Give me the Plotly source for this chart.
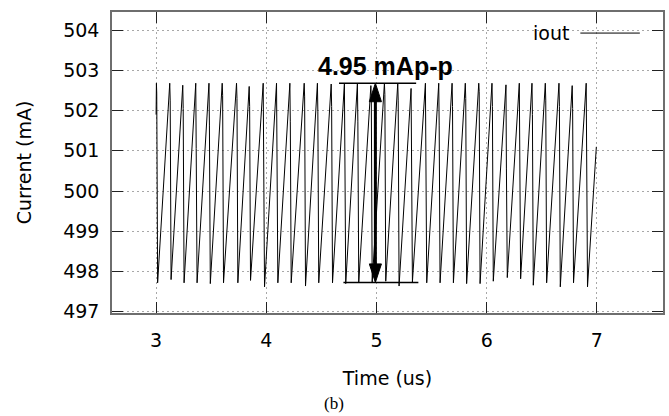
import plotly.graph_objects as go

# first and last samples of the captured window
t_first, i_first = 3.000, 501.90
t_last, i_last = 6.995, 501.10

# one entry per switching cycle: crest, knee on the falling edge, valley
t_peak = [3.003, 3.124, 3.242, 3.360, 3.480, 3.600, 3.730, 3.845, 3.972, 4.093, 4.214,
          4.344, 4.464, 4.589, 4.709, 4.827, 4.949, 5.072, 5.193, 5.314, 5.444, 5.565,
          5.686, 5.806, 5.928, 6.048, 6.175, 6.296, 6.411, 6.532, 6.656, 6.776, 6.903]
i_peak = [502.68, 502.68, 502.63, 502.68, 502.68, 502.68, 502.68, 502.60, 502.68, 502.68, 502.68,
          502.68, 502.68, 502.66, 502.68, 502.68, 502.62, 502.68, 502.68, 502.55, 502.68, 502.68,
          502.68, 502.68, 502.68, 502.68, 502.64, 502.68, 502.68, 502.68, 502.68, 502.62, 502.68]
t_knee = [3.006, 3.128, 3.246, 3.364, 3.484, 3.604, 3.734, 3.849, 3.976, 4.097, 4.218,
          4.348, 4.468, 4.593, 4.713, 4.831, 4.953, 5.076, 5.197, 5.318, 5.448, 5.569,
          5.690, 5.810, 5.932, 6.052, 6.179, 6.300, 6.415, 6.536, 6.660, 6.780, 6.907]
i_knee = [502.43, 502.26, 502.05, 501.06, 501.64, 502.38, 502.30, 502.10, 501.27, 501.43, 501.72,
          502.34, 501.97, 502.10, 501.31, 501.72, 502.30, 502.40, 502.26, 500.80, 501.31, 501.64,
          502.10, 502.30, 502.47, 502.10, 500.55, 501.10, 501.90, 502.26, 502.10, 502.05, 500.98]
t_valley = [3.014, 3.136, 3.254, 3.372, 3.492, 3.612, 3.742, 3.857, 3.984, 4.105, 4.226,
            4.356, 4.476, 4.601, 4.721, 4.839, 4.961, 5.084, 5.205, 5.326, 5.456, 5.577,
            5.698, 5.818, 5.940, 6.060, 6.187, 6.308, 6.423, 6.544, 6.668, 6.788, 6.915]
i_valley = [497.72, 497.80, 497.72, 497.72, 497.70, 497.72, 497.72, 497.78, 497.62, 497.72, 497.72,
            497.64, 497.72, 497.72, 497.70, 497.73, 497.73, 497.76, 497.64, 497.74, 497.72, 497.72,
            497.72, 497.70, 497.70, 497.76, 497.85, 497.82, 497.66, 497.72, 497.62, 497.72, 497.62]

# peak-to-peak marker
pp_top = 502.68
pp_bottom = 497.73
pp_time = 4.99
pp_label = f"{pp_top - pp_bottom:.2f} mAp-p"
pp_label_time = 5.08
bracket_top = (4.66, 5.36)
bracket_bottom = (4.70, 5.38)

x_ticks = [3, 4, 5, 6, 7]
y_ticks = [497, 498, 499, 500, 501, 502, 503, 504]

time_us = [t_first]
current_ma = [i_first]
for k in range(len(t_peak)):
    time_us += [t_peak[k], t_knee[k], t_valley[k]]
    current_ma += [i_peak[k], i_knee[k], i_valley[k]]
time_us.append(t_last)
current_ma.append(i_last)

FONT = "DejaVu Sans"

fig = go.Figure()
fig.add_trace(go.Scatter(
    x=time_us, y=current_ma, mode="lines", name="iout",
    line=dict(color="black", width=1), showlegend=False,
))

# double-headed arrow and the two level brackets
head_len = 0.46   # mA
head_half = 0.055  # us
shapes = [
    dict(type="line", xref="x", yref="y", x0=bracket_top[0], x1=bracket_top[1],
         y0=pp_top, y1=pp_top, line=dict(color="black", width=1.5)),
    dict(type="line", xref="x", yref="y", x0=bracket_bottom[0], x1=bracket_bottom[1],
         y0=pp_bottom, y1=pp_bottom, line=dict(color="black", width=1.5)),
    dict(type="line", xref="x", yref="y", x0=pp_time, x1=pp_time,
         y0=pp_bottom + head_len * 0.8, y1=pp_top - head_len * 0.8,
         line=dict(color="black", width=3)),
    dict(type="path", xref="x", yref="y", fillcolor="black", line=dict(color="black", width=1),
         path=(f"M{pp_time - head_half},{pp_top - head_len} L{pp_time},{pp_top} "
               f"L{pp_time + head_half},{pp_top - head_len} Z")),
    dict(type="path", xref="x", yref="y", fillcolor="black", line=dict(color="black", width=1),
         path=(f"M{pp_time - head_half},{pp_bottom + head_len} L{pp_time},{pp_bottom} "
               f"L{pp_time + head_half},{pp_bottom + head_len} Z")),
    # legend sample line
    dict(type="line", xref="paper", yref="paper", x0=0.850, x1=0.958, y0=0.930, y1=0.930,
         line=dict(color="black", width=1)),
]

annotations = [
    dict(text=f"<b>{pp_label}</b>", x=pp_label_time, y=pp_top,
         xref="x", yref="y", xanchor="center", yanchor="bottom", yshift=1, showarrow=False,
         font=dict(family="Liberation Sans", size=25, color="black")),
    dict(text="iout", x=(573 - 112) / 553, y=0.930, xref="paper", yref="paper",
         xanchor="right", yanchor="middle", showarrow=False,
         font=dict(family=FONT, size=19, color="black")),
    dict(text="(b)", x=(335 - 112) / 553, y=-0.302, xref="paper", yref="paper",
         xanchor="center", yanchor="middle", showarrow=False,
         font=dict(family="Liberation Serif", size=17, color="black")),
]

axis_common = dict(
    showline=True, linecolor="#6e6e6e", linewidth=1.5, mirror="ticks",
    ticks="inside", ticklen=11, tickwidth=1, tickcolor="#222222",
    showgrid=True, gridcolor="#a8a8a8", gridwidth=1, griddash="2px,3px",
    zeroline=False, tickfont=dict(family=FONT, size=19, color="black"),
)

fig.update_layout(
    width=669, height=416,
    margin=dict(l=112, r=4, t=12, b=103),
    paper_bgcolor="white", plot_bgcolor="white",
    shapes=shapes, annotations=annotations,
    xaxis=dict(range=[2.6, 7.6], tickvals=x_ticks, ticklabelstandoff=9,
               title=dict(text="Time (us)", font=dict(family=FONT, size=19, color="black"),
                          standoff=22),
               **axis_common),
    yaxis=dict(range=[496.97, 504.45], tickvals=y_ticks, ticklabelstandoff=7,
               title=dict(text="Current (mA)", font=dict(family=FONT, size=19, color="black"),
                          standoff=27),
               **axis_common),
)

fig.write_html("out.html")
